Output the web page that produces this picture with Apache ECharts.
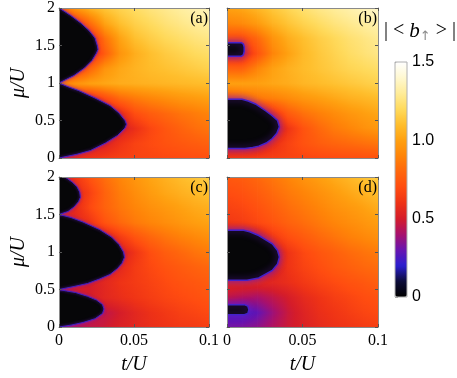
<!DOCTYPE html>
<html>
<head>
<meta charset="utf-8">
<script src="https://cdn.jsdelivr.net/npm/echarts@6/dist/echarts.min.js"></script>
<style>
	html, body { margin: 0; background: #fff; }
	#chart { width: 457px; height: 378px; }
</style>
</head>
<body>
<div id="chart"></div>
<script>
// sample positions of the read values (t/U columns, mu/U rows)
var T_STEPS = [0, 0.01, 0.02, 0.03, 0.04, 0.05, 0.06, 0.07, 0.08, 0.09, 0.1];
var MU_STEPS = [0, 0.2, 0.4, 0.6, 0.8, 1.0, 1.2, 1.4, 1.6, 1.8, 2.0];
var V_MAX = 1.5;

// |<b_up>| read from the picture outside the Mott lobes, one row per mu (0 .. 2)
// (cells that sit inside a lobe hold the value at its edge, the lobe is painted on top)
var FIELD_A = [
	[0.50, 0.56, 0.60, 0.63, 0.65, 0.66, 0.67, 0.68, 0.69, 0.70, 0.71],
	[0.50, 0.50, 0.50, 0.52, 0.60, 0.66, 0.69, 0.72, 0.74, 0.76, 0.78],
	[0.50, 0.50, 0.50, 0.50, 0.50, 0.58, 0.67, 0.73, 0.78, 0.82, 0.85],
	[0.50, 0.50, 0.50, 0.50, 0.55, 0.70, 0.76, 0.80, 0.84, 0.87, 0.90],
	[0.55, 0.55, 0.55, 0.68, 0.80, 0.86, 0.90, 0.93, 0.96, 0.98, 1.00],
	[0.85, 0.95, 1.00, 1.02, 1.04, 1.05, 1.06, 1.07, 1.08, 1.09, 1.10],
	[0.60, 0.60, 0.78, 0.95, 1.02, 1.06, 1.09, 1.11, 1.13, 1.15, 1.17],
	[0.55, 0.55, 0.55, 0.75, 0.95, 1.04, 1.10, 1.14, 1.17, 1.20, 1.22],
	[0.55, 0.55, 0.55, 0.82, 1.00, 1.10, 1.15, 1.19, 1.22, 1.25, 1.27],
	[0.60, 0.60, 0.80, 1.00, 1.10, 1.16, 1.20, 1.24, 1.27, 1.30, 1.32],
	[0.75, 0.95, 1.05, 1.12, 1.17, 1.21, 1.25, 1.28, 1.31, 1.34, 1.36]
];
var FIELD_B = [
	[0.62, 0.63, 0.64, 0.65, 0.66, 0.67, 0.68, 0.69, 0.70, 0.71, 0.72],
	[0.50, 0.50, 0.50, 0.58, 0.66, 0.72, 0.76, 0.79, 0.81, 0.83, 0.85],
	[0.50, 0.50, 0.50, 0.50, 0.60, 0.72, 0.80, 0.86, 0.90, 0.94, 0.97],
	[0.50, 0.50, 0.50, 0.60, 0.75, 0.83, 0.88, 0.92, 0.96, 0.99, 1.02],
	[0.75, 0.80, 0.85, 0.88, 0.92, 0.96, 0.99, 1.02, 1.05, 1.07, 1.09],
	[1.00, 1.00, 1.00, 1.02, 1.04, 1.07, 1.09, 1.11, 1.13, 1.15, 1.17],
	[0.78, 0.78, 0.90, 1.00, 1.05, 1.09, 1.12, 1.15, 1.18, 1.20, 1.22],
	[0.55, 0.55, 0.72, 0.90, 1.00, 1.08, 1.13, 1.17, 1.21, 1.24, 1.27],
	[0.70, 0.70, 0.80, 0.95, 1.04, 1.10, 1.15, 1.19, 1.23, 1.26, 1.29],
	[0.90, 0.92, 0.98, 1.06, 1.12, 1.17, 1.21, 1.25, 1.28, 1.31, 1.34],
	[1.00, 1.02, 1.07, 1.13, 1.18, 1.23, 1.27, 1.30, 1.33, 1.36, 1.39]
];
var FIELD_C = [
	[0.40, 0.42, 0.45, 0.48, 0.52, 0.55, 0.58, 0.60, 0.62, 0.63, 0.65],
	[0.45, 0.45, 0.45, 0.45, 0.50, 0.55, 0.59, 0.62, 0.65, 0.67, 0.69],
	[0.50, 0.50, 0.50, 0.55, 0.58, 0.61, 0.64, 0.67, 0.69, 0.71, 0.73],
	[0.50, 0.50, 0.50, 0.55, 0.60, 0.63, 0.66, 0.69, 0.72, 0.74, 0.76],
	[0.50, 0.50, 0.50, 0.50, 0.55, 0.63, 0.68, 0.72, 0.75, 0.78, 0.80],
	[0.50, 0.50, 0.50, 0.50, 0.50, 0.60, 0.70, 0.76, 0.80, 0.84, 0.87],
	[0.50, 0.50, 0.50, 0.50, 0.62, 0.72, 0.79, 0.84, 0.88, 0.91, 0.94],
	[0.55, 0.55, 0.60, 0.72, 0.80, 0.86, 0.90, 0.93, 0.96, 0.99, 1.01],
	[0.55, 0.55, 0.68, 0.78, 0.85, 0.90, 0.94, 0.97, 1.00, 1.03, 1.05],
	[0.55, 0.55, 0.65, 0.78, 0.87, 0.93, 0.98, 1.02, 1.05, 1.08, 1.11],
	[0.55, 0.60, 0.72, 0.82, 0.90, 0.96, 1.01, 1.05, 1.09, 1.12, 1.16]
];
var FIELD_D = [
	[0.32, 0.33, 0.36, 0.42, 0.48, 0.52, 0.56, 0.59, 0.61, 0.63, 0.65],
	[0.25, 0.25, 0.29, 0.38, 0.47, 0.53, 0.58, 0.61, 0.64, 0.67, 0.69],
	[0.45, 0.42, 0.40, 0.45, 0.50, 0.56, 0.60, 0.64, 0.67, 0.70, 0.72],
	[0.55, 0.55, 0.55, 0.55, 0.58, 0.62, 0.66, 0.69, 0.72, 0.74, 0.77],
	[0.50, 0.50, 0.50, 0.50, 0.60, 0.66, 0.70, 0.74, 0.77, 0.80, 0.82],
	[0.50, 0.50, 0.50, 0.50, 0.60, 0.68, 0.73, 0.77, 0.81, 0.84, 0.87],
	[0.50, 0.50, 0.50, 0.62, 0.70, 0.75, 0.80, 0.84, 0.88, 0.91, 0.94],
	[0.62, 0.64, 0.68, 0.73, 0.78, 0.82, 0.86, 0.90, 0.93, 0.96, 0.99],
	[0.66, 0.68, 0.72, 0.77, 0.82, 0.86, 0.90, 0.94, 0.97, 1.00, 1.04],
	[0.70, 0.72, 0.76, 0.81, 0.86, 0.90, 0.94, 0.98, 1.02, 1.06, 1.10],
	[0.74, 0.76, 0.80, 0.85, 0.90, 0.95, 0.99, 1.03, 1.07, 1.11, 1.15]
];

// Mott lobe edges (|<b_up>| = 0 inside), points [t/U, mu/U]
var LOBE_A1 = [[0, 0], [0.012, 0.05], [0.021, 0.1], [0.031, 0.2], [0.039, 0.3], [0.044, 0.4], [0.045, 0.45], [0.044, 0.5], [0.040, 0.6], [0.034, 0.7], [0.024, 0.8], [0.013, 0.9], [0.006, 0.95], [0, 1]];
var LOBE_A2 = [[0, 1], [0.005, 1.05], [0.010, 1.1], [0.017, 1.2], [0.022, 1.3], [0.025, 1.4], [0.026, 1.45], [0.0255, 1.5], [0.024, 1.6], [0.020, 1.7], [0.0145, 1.8], [0.0078, 1.9], [0.004, 1.95], [0, 2]];
var LOBE_B1 = [[0, 1.357], [0.0095, 1.357], [0.0108, 1.375], [0.0114, 1.42], [0.0114, 1.48], [0.0108, 1.52], [0.0095, 1.537], [0, 1.537]];
var LOBE_B2 = [[0, 0.127], [0.012, 0.127], [0.017, 0.14], [0.021, 0.158], [0.026, 0.2], [0.030, 0.26], [0.033, 0.33], [0.0347, 0.415], [0.0335, 0.5], [0.0295, 0.57], [0.0255, 0.63], [0.0188, 0.72], [0.014, 0.76], [0.010, 0.784], [0, 0.784]];
var LOBE_C1 = [[0, 0], [0.008, 0.025], [0.016, 0.06], [0.024, 0.11], [0.029, 0.18], [0.030, 0.24], [0.029, 0.3], [0.025, 0.36], [0.019, 0.41], [0.011, 0.46], [0.005, 0.48], [0, 0.5]];
var LOBE_C2 = [[0, 0.5], [0.010, 0.54], [0.019, 0.58], [0.027, 0.64], [0.034, 0.7], [0.039, 0.78], [0.042, 0.85], [0.0437, 0.93], [0.043, 1.0], [0.040, 1.1], [0.035, 1.2], [0.027, 1.3], [0.016, 1.4], [0.008, 1.46], [0, 1.5]];
var LOBE_C3 = [[0, 1.5], [0.006, 1.54], [0.010, 1.6], [0.013, 1.67], [0.0143, 1.73], [0.0138, 1.8], [0.012, 1.87], [0.009, 1.93], [0.0055, 1.98], [0.004, 2.0], [0.003, 2.05], [0, 2.05]];
var LOBE_D1 = [[0, 0.622], [0.0132, 0.622], [0.021, 0.653], [0.030, 0.755], [0.0335, 0.84], [0.0347, 0.933], [0.0335, 1.02], [0.030, 1.11], [0.021, 1.22], [0.015, 1.27], [0.011, 1.29], [0, 1.29]];
var LOBE_D2 = [[0, 0.164], [0.0115, 0.164], [0.0138, 0.18], [0.0145, 0.23], [0.0138, 0.28], [0.0115, 0.298], [0, 0.298]];

// colour scale, evenly spread over 0 .. 1.5
var CMAP_COLORS = ['#000000', '#0c0c38', '#2a1ed0', '#6814b0', '#a8106c', '#d41c2a', '#ee3216', '#ff4c10',
	'#ff660c', '#ff8408', '#ffa010', '#ffbe2c', '#ffda5c', '#ffec98', '#fff8d0', '#ffffff'];

var SERIF = '"Liberation Serif", "Times New Roman", serif';
var SANS = '"Liberation Sans", Arial, sans-serif';

var PANELS = [
	{ tag: '(a)', field: FIELD_A, lobes: [LOBE_A1, LOBE_A2], grid: { left: 59, top: 8, width: 150, height: 150 }, xLab: false, yLab: true, halo: 'thin' },
	{ tag: '(b)', field: FIELD_B, lobes: [LOBE_B1, LOBE_B2], grid: { left: 227, top: 8, width: 151, height: 150 }, xLab: false, yLab: false, halo: 'wide' },
	{ tag: '(c)', field: FIELD_C, lobes: [LOBE_C1, LOBE_C2, LOBE_C3], grid: { left: 59, top: 177, width: 150, height: 150 }, xLab: true, yLab: true, halo: 'thin' },
	{ tag: '(d)', field: FIELD_D, lobes: [LOBE_D1, LOBE_D2], grid: { left: 227, top: 177, width: 151, height: 150 }, xLab: true, yLab: false, halo: 'wide' }
];
var HALO = {
	thin: { stroke: '#4020c0', width: 1, blur: 3, glow: 'rgba(110,30,200,0.9)' },
	wide: { stroke: '#4422c8', width: 1.5, blur: 7, glow: 'rgba(105,30,200,0.95)' }
};

function lerp(a, b, f) { return a + (b - a) * f; }
function hexRgb(h) { var n = parseInt(h.slice(1), 16); return [n >> 16, (n >> 8) & 255, n & 255]; }
var CMAP_RGB = CMAP_COLORS.map(hexRgb);
function cmap(v) {
	var x = Math.max(0, Math.min(V_MAX, v)) / V_MAX * (CMAP_RGB.length - 1);
	var k = Math.min(CMAP_RGB.length - 2, Math.floor(x)), f = x - k;
	var a = CMAP_RGB[k], b = CMAP_RGB[k + 1];
	return 'rgb(' + Math.round(lerp(a[0], b[0], f)) + ',' + Math.round(lerp(a[1], b[1], f)) + ',' + Math.round(lerp(a[2], b[2], f)) + ')';
}

// one item per read sample; its cell is shaded smoothly towards the neighbouring samples
function fieldSeries(g, field) {
	var data = [];
	for (var j = 0; j < MU_STEPS.length - 1; j++) {
		for (var i = 0; i < T_STEPS.length - 1; i++) {
			data.push([T_STEPS[i], MU_STEPS[j], field[j][i], i, j]);
		}
	}
	return {
		type: 'custom', coordinateSystem: 'cartesian2d', xAxisIndex: g * 2, yAxisIndex: g * 2,
		clip: true, silent: true, z: 1, data: data,
		renderItem: function (params, api) {
			var i = api.value(3), j = api.value(4);
			var p0 = api.coord([T_STEPS[i], MU_STEPS[j]]);
			var p1 = api.coord([T_STEPS[i + 1], MU_STEPS[j + 1]]);
			var h = p0[1] - p1[1], n = Math.max(1, Math.round(h));
			var kids = [];
			for (var s = 0; s < n; s++) {
				var f = (s + 0.5) / n;
				var vl = lerp(field[j][i], field[j + 1][i], f);
				var vr = lerp(field[j][i + 1], field[j + 1][i + 1], f);
				var stops = [];
				for (var k = 0; k <= 4; k++) stops.push({ offset: k / 4, color: cmap(lerp(vl, vr, k / 4)) });
				kids.push({
					type: 'rect',
					shape: { x: p0[0], y: p0[1] - (s + 1) * h / n, width: p1[0] - p0[0] + 0.6, height: h / n + 0.6 },
					style: { fill: new echarts.graphic.LinearGradient(0, 0, 1, 0, stops) }
				});
			}
			return { type: 'group', children: kids };
		}
	};
}

function lobeSeries(g, lobe, halo) {
	return {
		type: 'custom', coordinateSystem: 'cartesian2d', xAxisIndex: g * 2, yAxisIndex: g * 2,
		clip: true, silent: true, z: 2, data: [lobe[0]],
		renderItem: function (params, api) {
			// close the shape well left of t = 0 so its rim stays off the axis
			var pts = [api.coord([-0.012, lobe[0][1]])];
			lobe.forEach(function (p) { pts.push(api.coord(p)); });
			pts.push(api.coord([-0.012, lobe[lobe.length - 1][1]]));
			return {
				type: 'polygon', shape: { points: pts },
				style: { fill: '#060608', stroke: halo.stroke, lineWidth: halo.width, shadowBlur: halo.blur, shadowColor: halo.glow }
			};
		}
	};
}

var grids = [], xAxes = [], yAxes = [], series = [], graphics = [];
var frame = { show: true, onZero: false, lineStyle: { color: '#8a8a8a', width: 1 } };
var tick = { show: true, inside: true, length: 3, lineStyle: { color: '#555' } };

PANELS.forEach(function (p, g) {
	grids.push(p.grid);
	['bottom', 'top'].forEach(function (pos) {
		var showLab = pos === 'bottom' && p.xLab;
		xAxes.push({
			type: 'value', gridIndex: g, position: pos, min: 0, max: 0.1, interval: 0.05, z: 10,
			axisLine: frame, axisTick: tick, splitLine: { show: false },
			axisLabel: { show: showLab, color: '#000', fontFamily: SERIF, fontSize: 16, margin: 6 },
			name: showLab ? 't/U' : '', nameLocation: 'middle', nameGap: 28,
			nameTextStyle: { fontFamily: SERIF, fontStyle: 'italic', fontSize: 20, color: '#000' }
		});
	});
	['left', 'right'].forEach(function (pos) {
		var showLab = pos === 'left' && p.yLab;
		yAxes.push({
			type: 'value', gridIndex: g, position: pos, min: 0, max: 2, interval: 0.5, z: 10,
			axisLine: frame, axisTick: tick, splitLine: { show: false },
			axisLabel: { show: showLab, color: '#000', fontFamily: SERIF, fontSize: 16, margin: 4 },
			name: showLab ? 'μ/U' : '', nameLocation: 'middle', nameGap: 30, nameRotate: 90,
			nameTextStyle: { fontFamily: SERIF, fontStyle: 'italic', fontSize: 20, color: '#000' }
		});
	});
	series.push(fieldSeries(g, p.field));
	p.lobes.forEach(function (lobe) { series.push(lobeSeries(g, lobe, HALO[p.halo])); });
	graphics.push({
		type: 'text', x: p.grid.left + p.grid.width - 1, y: p.grid.top + 11, z: 20,
		style: { text: p.tag, fontFamily: SERIF, fontSize: 16, fill: '#000', align: 'right', textAlign: 'right', verticalAlign: 'middle', textVerticalAlign: 'middle' }
	});
});

// colour bar axis
var BAR = { left: 395, top: 62, width: 12, height: 235 };
grids.push({ left: BAR.left, top: BAR.top, width: BAR.width, height: BAR.height, show: true, z: 5, borderColor: '#b0b0b0', borderWidth: 1, backgroundColor: 'transparent' });
xAxes.push({ type: 'value', gridIndex: 4, min: 0, max: 1, show: false });
yAxes.push({
	type: 'value', gridIndex: 4, position: 'right', min: 0, max: V_MAX, interval: 0.5,
	axisLine: { show: false }, splitLine: { show: false },
	axisTick: { show: true, length: 3, lineStyle: { color: '#999' } },
	axisLabel: { color: '#000', fontFamily: SANS, fontSize: 16, margin: 5, formatter: function (v) { return v === 0 ? '0' : v.toFixed(1); } }
});

graphics.push({
	type: 'text', x: 420, y: 31, z: 20,
	style: {
		text: '| < {b|b}{s|↑} > |', fontFamily: SERIF, fontSize: 20, fill: '#000',
		align: 'center', textAlign: 'center', verticalAlign: 'middle', textVerticalAlign: 'middle',
		rich: {
			b: { fontFamily: SERIF, fontStyle: 'italic', fontSize: 21, fill: '#000', color: '#000' },
			s: { fontFamily: '"DejaVu Sans", sans-serif', fontSize: 13, fill: '#8a8a8a', color: '#8a8a8a', padding: [12, 0, 0, 0] }
		}
	}
});

var chart = echarts.init(document.getElementById('chart'));
chart.setOption({
	animation: false,
	backgroundColor: '#fff',
	grid: grids,
	xAxis: xAxes,
	yAxis: yAxes,
	visualMap: {
		type: 'continuous', seriesIndex: [], min: 0, max: V_MAX, calculable: false,
		left: BAR.left, top: BAR.top, itemWidth: BAR.width, itemHeight: BAR.height, padding: 0,
		inRange: { color: CMAP_COLORS }
	},
	series: series,
	graphic: graphics
});
</script>
</body>
</html>
